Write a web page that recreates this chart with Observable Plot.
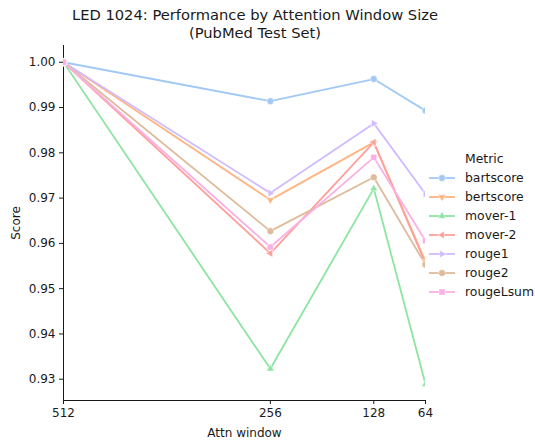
<!DOCTYPE html>
<html><head><meta charset="utf-8">
<script src="https://cdn.jsdelivr.net/npm/d3@7"></script>
<script src="https://cdn.jsdelivr.net/npm/@observablehq/plot@0.6"></script>
<style>
body{margin:0;background:#fff;font-family:"DejaVu Sans",sans-serif;}
#wrap{position:relative;width:535px;height:440px;overflow:hidden;}
#title{position:absolute;left:0;top:6px;width:510px;text-align:center;font-size:14.7px;line-height:18px;color:#1a1a1a;}
#chart{position:absolute;left:0;top:42px;}
#legend{position:absolute;left:428px;top:149px;font-size:12.4px;color:#1a1a1a;}
#legend .row{height:19px;display:flex;align-items:center;}
#legend .ttl{height:19px;line-height:19px;padding-left:37px;}
#legend svg{margin-right:9px;}
</style></head><body>
<div id="wrap">
  <div id="title">LED 1024: Performance by Attention Window Size<br>(PubMed Test Set)</div>
  <div id="chart"></div>
  <div id="legend"></div>
</div>
<script>
const windows = [512, 256, 128, 64];
const metrics = ["bartscore", "bertscore", "mover-1", "mover-2", "rouge1", "rouge2", "rougeLsum"];
const bartscore = [1.0, 0.9914, 0.9963, 0.9893];
const bertscore = [1.0, 0.9696, 0.9823, 0.9560];
const mover1 = [1.0, 0.9323, 0.9721, 0.9289];
const mover2 = [1.0, 0.9578, 0.9823, 0.9556];
const rouge1 = [1.0, 0.9711, 0.9865, 0.9709];
const rouge2 = [1.0, 0.9627, 0.9746, 0.9553];
const rougeLsum = [1.0, 0.9592, 0.9790, 0.9606];
const yTicks = [0.93, 0.94, 0.95, 0.96, 0.97, 0.98, 0.99, 1.00];
const colors = ["#a1c9f4", "#ffb482", "#8de5a1", "#ff9f9b", "#d0bbff", "#debb9b", "#fab0e4"];

const series = [bartscore, bertscore, mover1, mover2, rouge1, rouge2, rougeLsum];
const data = [];
metrics.forEach((m, i) => windows.forEach((w, j) => data.push({metric: m, window: w, score: series[i][j]})));

function poly(n, start, k) {
  return {draw(ctx, size) {
    const r = Math.sqrt(size / Math.PI) * k;
    for (let i = 0; i < n; i++) {
      const a = start + i * 2 * Math.PI / n;
      const x = r * Math.cos(a), y = r * Math.sin(a);
      if (i === 0) ctx.moveTo(x, y); else ctx.lineTo(x, y);
    }
    ctx.closePath();
  }};
}
const symCircle = {draw(ctx, size) { const r = Math.sqrt(size / Math.PI); ctx.moveTo(r, 0); ctx.arc(0, 0, r, 0, 2 * Math.PI); }};
const symbols = [
  symCircle,
  poly(3, Math.PI / 2, 1.3),
  poly(3, -Math.PI / 2, 1.3),
  poly(3, Math.PI, 1.3),
  poly(3, 0, 1.3),
  poly(8, Math.PI / 8, 1.05),
  poly(4, Math.PI / 4, 1.25)
];

const plot = Plot.plot({
  width: 535,
  height: 398,
  marginTop: 3,
  marginBottom: 40,
  marginLeft: 63,
  marginRight: 110,
  style: {fontFamily: "DejaVu Sans, sans-serif", fontSize: "12px", color: "#1a1a1a", background: "white"},
  x: {type: "linear", domain: [512, 64], ticks: windows, tickFormat: d => String(d), tickSize: 4, tickPadding: 4, line: true, label: "Attn window", labelArrow: "none", labelAnchor: "center", labelOffset: 36},
  y: {domain: [0.9253, 1.0037], ticks: yTicks, tickFormat: d3.format(".2f"), tickSize: 4, tickPadding: 4, line: true, label: "Score", labelArrow: "none", labelAnchor: "center", labelOffset: 52},
  color: {domain: metrics, range: colors},
  symbol: {domain: metrics, range: symbols},
  marks: [
    Plot.line(data, {x: "window", y: "score", z: "metric", stroke: "metric", strokeWidth: 1.8, clip: true}),
    Plot.dot(data, {x: "window", y: "score", fill: "metric", symbol: "metric", r: 3.4, stroke: "white", strokeWidth: 0.5, clip: true})
  ]
});
document.getElementById("chart").appendChild(plot);

// legend
const leg = document.getElementById("legend");
const t = document.createElement("div"); t.className = "ttl"; t.textContent = "Metric"; leg.appendChild(t);
metrics.forEach((m, i) => {
  const row = document.createElement("div"); row.className = "row";
  const svg = d3.create("svg").attr("width", 28).attr("height", 12);
  svg.append("line").attr("x1", 1).attr("x2", 27).attr("y1", 6).attr("y2", 6).attr("stroke", colors[i]).attr("stroke-width", 1.8);
  const p = d3.path(); symbols[i].draw(p, 3.4 * 3.4 * Math.PI);
  svg.append("path").attr("transform", "translate(14,6)").attr("d", p.toString()).attr("fill", colors[i]).attr("stroke", "white").attr("stroke-width", 0.5);
  row.appendChild(svg.node());
  const s = document.createElement("span"); s.textContent = m; row.appendChild(s);
  leg.appendChild(row);
});
</script>
</body></html>
